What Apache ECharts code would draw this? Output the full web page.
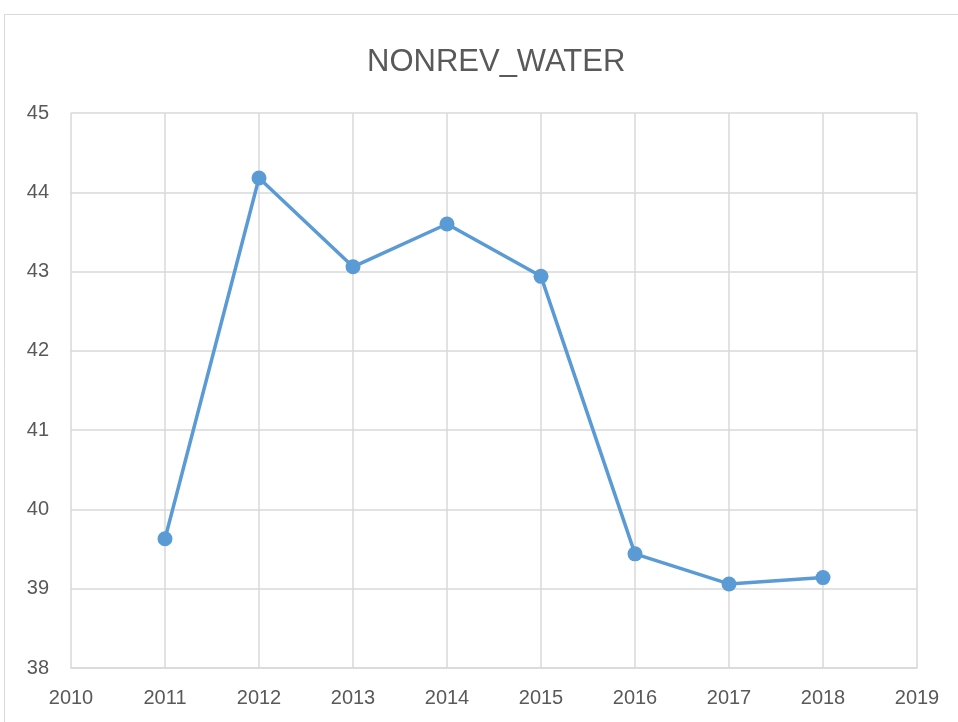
<!DOCTYPE html>
<html>
<head>
<meta charset="utf-8">
<script src="https://cdn.jsdelivr.net/npm/echarts@6/dist/echarts.min.js"></script>
<style>
  html, body { margin: 0; padding: 0; background: #fff; }
  #chart { width: 958px; height: 722px; }
</style>
</head>
<body>
<div id="chart"></div>
<script>
// data
const years = [2011, 2012, 2013, 2014, 2015, 2016, 2017, 2018];
const nonrevWater = [39.63, 44.18, 43.06, 43.60, 42.94, 39.44, 39.06, 39.14];

const font = '"Liberation Sans Narrow", "Liberation Sans", sans-serif';
const chart = echarts.init(document.getElementById('chart'));

chart.setOption({
    animation: false,
    graphic: [{
        type: 'rect',
        shape: { x: 4.5, y: 14.5, width: 970, height: 720 },
        style: { fill: 'none', stroke: '#d9d9d9', lineWidth: 1 },
        silent: true
    }],
    title: {
        text: 'NONREV_WATER',
        left: 362,
        top: 42,
        textStyle: { color: '#595959', fontSize: 31, fontWeight: 'normal', fontFamily: font }
    },
    grid: { left: 71, right: 41, top: 113, bottom: 54 },
    xAxis: {
        type: 'value',
        min: 2010,
        max: 2019,
        interval: 1,
        axisLine: { show: true, lineStyle: { color: '#d9d9d9', width: 1.5 } },
        axisTick: { show: false },
        splitLine: { show: true, lineStyle: { color: '#d9d9d9', width: 1.5 } },
        axisLabel: { color: '#595959', fontSize: 20, fontFamily: font, margin: 20, formatter: v => String(v) }
    },
    yAxis: {
        type: 'value',
        min: 38,
        max: 45,
        interval: 1,
        axisLine: { show: false },
        axisTick: { show: false },
        splitLine: { show: true, lineStyle: { color: '#d9d9d9', width: 1.5 } },
        axisLabel: { color: '#595959', fontSize: 20, fontFamily: font, margin: 22 }
    },
    series: [{
        type: 'line',
        data: years.map((y, i) => [y, nonrevWater[i]]),
        symbol: 'circle',
        symbolSize: 15,
        lineStyle: { color: '#5b9bd5', width: 3.5 },
        itemStyle: { color: '#5b9bd5' }
    }]
});
</script>
</body>
</html>
